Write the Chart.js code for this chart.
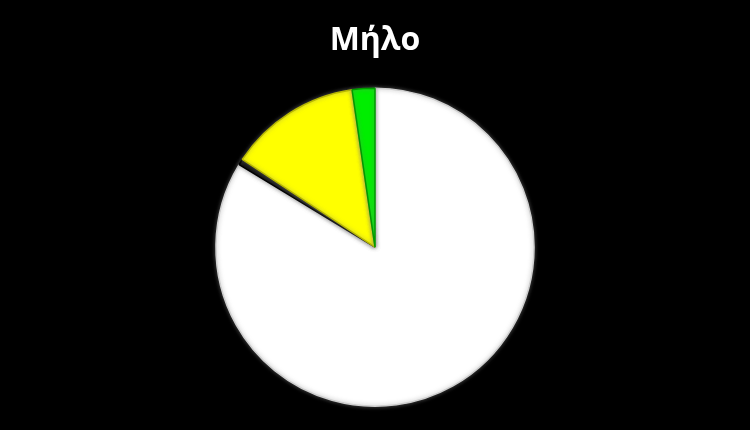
<!DOCTYPE html>
<html>
<head>
<meta charset="utf-8">
<script src="https://cdn.jsdelivr.net/npm/chart.js@4.4.1/dist/chart.umd.min.js"></script>
<style>
  html, body { margin: 0; padding: 0; background: #000; }
  #wrap { width: 750px; height: 430px; }
</style>
</head>
<body>
<div id="wrap"><canvas id="chart" width="750" height="430"></canvas></div>
<script>
const titulo = "Μήλο";
const categorias = ["Νερό", "Πρωτεΐνες και λιπαρά", "Υδατάνθρακες", "Φυτικές ίνες"];
const valores = [83.7, 0.6, 13.4, 2.3];
const colores = ["#ffffff", "#000000", "#ffff00", "#00ee00"];
const bordes = ["#cfcfcf", "#000000", "#b8b800", "#009a00"];

// sombra suave alrededor de las porciones
const sombra = {
    id: "sombra",
    beforeDatasetsDraw(chart) {
        const ctx = chart.ctx;
        ctx.save();
        ctx.shadowColor = "rgba(120,120,120,0.6)";
        ctx.shadowBlur = 4;
    },
    afterDatasetsDraw(chart) {
        chart.ctx.restore();
    }
};

const contexto = document.getElementById("chart").getContext("2d");
new Chart(contexto, {
    type: "pie",
    data: {
        labels: categorias,
        datasets: [{
            data: valores,
            backgroundColor: colores,
            borderColor: bordes,
            borderWidth: 1.5
        }]
    },
    options: {
        responsive: false,
        animation: false,
        layout: { padding: { top: 0, bottom: 23, left: 0, right: 0 } },
        plugins: {
            legend: { display: false },
            tooltip: { enabled: false },
            title: {
                display: true,
                text: titulo,
                color: "#ffffff",
                font: { family: "'Open Sans', sans-serif", size: 32, weight: "bold" },
                padding: { top: 22, bottom: 27 }
            }
        }
    },
    plugins: [sombra]
});
</script>
</body>
</html>
